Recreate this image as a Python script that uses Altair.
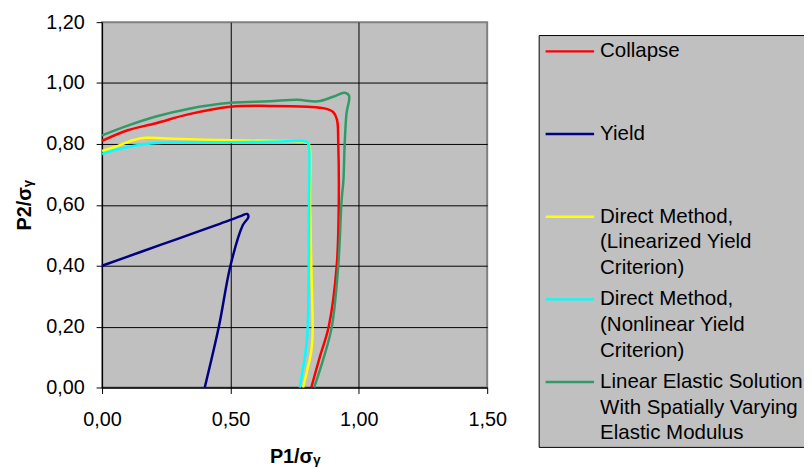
import altair as alt
import pandas as pd

# ---------------- data ----------------
series_names = [
    "Collapse",
    "Yield",
    "Direct Method, (Linearized Yield Criterion)",
    "Direct Method, (Nonlinear Yield Criterion)",
    "Linear Elastic Solution With Spatially Varying Elastic Modulus",
]
series_colors = ["#FF0000", "#000080", "#FFFF00", "#00FFFF", "#339966"]

legend_lines = [
    ["Collapse"],
    ["Yield"],
    ["Direct Method,", "(Linearized Yield", "Criterion)"],
    ["Direct Method,", "(Nonlinear Yield", "Criterion)"],
    ["Linear Elastic Solution", "With Spatially Varying", "Elastic Modulus"],
]

collapse_x = [0.00, 0.10, 0.21, 0.335, 0.50, 0.65, 0.80, 0.87, 0.90, 0.915, 0.92, 0.922, 0.914, 0.883, 0.848, 0.815]
collapse_y = [0.81, 0.845, 0.868, 0.897, 0.922, 0.925, 0.922, 0.916, 0.905, 0.88, 0.80, 0.615, 0.40, 0.20, 0.10, 0.00]

yield_x = [0.00, 0.15, 0.30, 0.45, 0.54, 0.565, 0.57, 0.548, 0.50, 0.455, 0.40]
yield_y = [0.40, 0.445, 0.49, 0.535, 0.563, 0.57, 0.56, 0.533, 0.40, 0.20, 0.00]

dm_lin_x = [0.00, 0.05, 0.12, 0.17, 0.25, 0.50, 0.70, 0.78, 0.805, 0.81, 0.81, 0.815, 0.82, 0.815, 0.80, 0.783]
dm_lin_y = [0.777, 0.79, 0.812, 0.82, 0.818, 0.812, 0.81, 0.808, 0.80, 0.78, 0.615, 0.40, 0.18, 0.12, 0.06, 0.00]

dm_nl_x = [0.00, 0.05, 0.17, 0.30, 0.50, 0.70, 0.78, 0.80, 0.806, 0.806, 0.805, 0.80, 0.79, 0.78, 0.77]
dm_nl_y = [0.767, 0.78, 0.80, 0.805, 0.806, 0.808, 0.81, 0.805, 0.79, 0.615, 0.40, 0.18, 0.10, 0.05, 0.00]

les_x = [0.00, 0.10, 0.21, 0.335, 0.50, 0.65, 0.76, 0.84, 0.90, 0.945, 0.962, 0.952, 0.945, 0.94, 0.933, 0.92, 0.895, 0.864, 0.826]
les_y = [0.828, 0.86, 0.89, 0.915, 0.935, 0.94, 0.945, 0.94, 0.955, 0.968, 0.958, 0.90, 0.80, 0.68, 0.615, 0.40, 0.20, 0.10, 0.00]

x_ticks = [0.0, 0.5, 1.0, 1.5]
y_ticks = [0.0, 0.2, 0.4, 0.6, 0.8, 1.0, 1.2]

# ---------------- table ----------------
all_x = [collapse_x, yield_x, dm_lin_x, dm_nl_x, les_x]
all_y = [collapse_y, yield_y, dm_lin_y, dm_nl_y, les_y]
rows = []
for name, xs, ys in zip(series_names, all_x, all_y):
    for i, (xv, yv) in enumerate(zip(xs, ys)):
        rows.append({"series": name, "x": xv, "y": yv, "order": i})
df = pd.DataFrame(rows)

def js_str(s):
    return "'" + s.replace("'", "\\'") + "'"

label_expr = ""
for name, lines in zip(series_names, legend_lines):
    arr = "[" + ", ".join(js_str(l) for l in lines) + "]"
    label_expr += f"datum.label == {js_str(name)} ? {arr} : "
label_expr += "datum.label"

FONT = "Liberation Sans"

edge_x = "datum.value >= 1.5"
edge_y = "datum.value >= 1.2"

chart = (
    alt.Chart(df)
    .mark_line(strokeWidth=2.5, interpolate="catmull-rom")
    .encode(
        x=alt.X(
            "x:Q",
            scale=alt.Scale(domain=[0, 1.5], nice=False, zero=False),
            axis=alt.Axis(
                values=x_ticks,
                title="P1/σᵧ",
                labelExpr="replace(format(datum.value, '.2f'), '.', ',')",
                labelFlush=False,
                grid=True,
                gridColor="black",
                gridOpacity={"condition": {"test": edge_x, "value": 0}, "value": 1},
                labelPadding=16,
                titlePadding=18,
            ),
        ),
        y=alt.Y(
            "y:Q",
            scale=alt.Scale(domain=[0, 1.2], nice=False, zero=False),
            axis=alt.Axis(
                values=y_ticks,
                title="P2/σᵧ",
                labelExpr="replace(format(datum.value, '.2f'), '.', ',')",
                labelFlush=False,
                grid=True,
                gridColor="black",
                gridOpacity={"condition": {"test": edge_y, "value": 0}, "value": 1},
                labelPadding=12,
                titlePadding=11,
            ),
        ),
        color=alt.Color(
            "series:N",
            sort=series_names,
            scale=alt.Scale(domain=series_names, range=series_colors),
            legend=alt.Legend(
                title=None,
                orient="none",
                legendX=441,
                legendY=13,
                fillColor="#C0C0C0",
                strokeColor="black",
                padding=3,
                symbolType="M -2.04,0 L 2.04,0",
                symbolSize=576,
                symbolStrokeWidth=2.5,
                symbolOffset=15,
                labelFontSize=20.7,
                labelFont=FONT,
                labelColor="black",
                labelLimit=400,
                labelOffset=17,
                rowPadding=7.5,
                gridAlign="all",
                labelExpr=label_expr,
            ),
        ),
        order="order:Q",
    )
    .properties(
        width=389,
        height=369,
        autosize=alt.AutoSizeParams(type="none"),
        padding={"left": 95, "top": 12, "right": 320, "bottom": 79},
    )
    .configure(style={"guide-label": {"lineHeight": 26}})
    .configure_view(fill="#C0C0C0", stroke="#808080", strokeWidth=2)
    .configure_axis(
        domainColor="black",
        tickColor="black",
        tickSize=6,
        labelFont=FONT,
        labelFontSize=20,
        labelColor="black",
        titleFont=FONT,
        titleFontSize=20,
        titleFontWeight="bold",
        titleColor="black",
        gridWidth=1,
    )
)

chart.save("out.html", embed_options={"renderer": "svg", "actions": False})
